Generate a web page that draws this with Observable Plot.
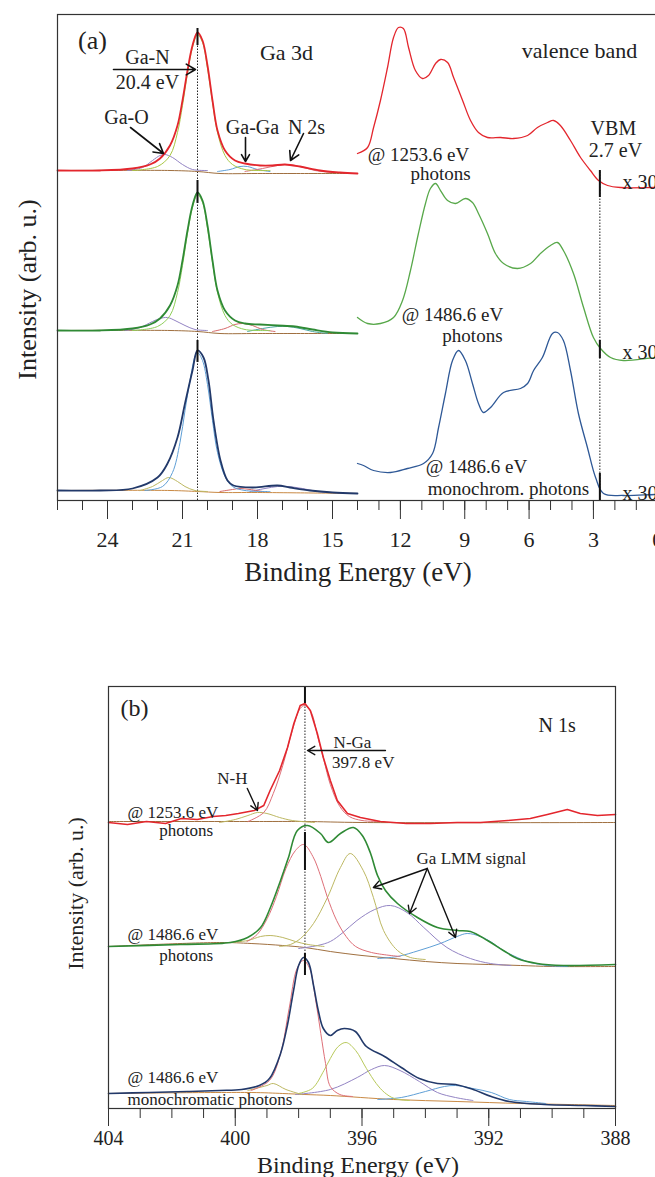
<!DOCTYPE html>
<html><head><meta charset="utf-8">
<script src="https://cdn.jsdelivr.net/npm/d3@7"></script>
<script src="https://cdn.jsdelivr.net/npm/@observablehq/plot@0.6"></script>
<style>
html,body{margin:0;padding:0;background:#fff;overflow:hidden;}
#wrap{position:relative;width:655px;height:1177px;overflow:hidden;background:#fff;}
#a{position:absolute;left:0;top:0;width:680px;}
#b{position:absolute;left:0;top:600px;width:655px;}
</style></head>
<body><div id="wrap"><div id="a"></div><div id="b"></div></div>
<script>
// ================= DATA (binding energy in eV, intensity in arb. u.) =================
// ---- Panel (a) Ga 3d, excitation 1253.6 eV (red) ----
const ga3d_1253_env = [[26,330],[24.3,330],[23,332],[22.3,336],[21.9,342],[21.5,355],[21.2,375],[21,400],[20.8,430],[20.6,455],[20.4,468],[20.2,460],[20,435],[19.8,400],[19.6,370],[19.3,350],[18.9,340],[18.5,337],[17.9,335],[17.4,335],[16.9,336],[16.3,334],[15.5,330],[14.7,328],[14,327]];
const ga3d_1253_GaN = [[23,330],[22,334],[21.5,345],[21.2,368],[21,395],[20.8,427],[20.6,453],[20.4,466],[20.2,458],[20,432],[19.8,398],[19.6,368],[19.3,345],[19,336],[18.5,331],[17.5,330]];
const ga3d_1253_GaO = [[23.2,330],[22.6,333],[22.2,340],[21.9,345],[21.7,346],[21.4,343],[21,336],[20.6,331],[20,330]];
const ga3d_1253_GaGa = [[19.6,329],[19.1,331],[18.7,334],[18.4,334],[18,331],[17.5,329]];
const ga3d_1253_N2s = [[18.5,329],[17.8,332],[17.2,335],[16.8,336],[16.3,334],[15.7,330],[15,328]];
const ga3d_1253_bg = [[26,330],[21.5,330],[20.4,329],[19.5,327],[18,327],[14,327]];
// ---- Panel (a) Ga 3d, 1486.6 eV (green) ----
const ga3d_1486_env = [[26,170],[24.3,170],[23,172],[22.3,176],[21.9,182],[21.5,195],[21.2,215],[21,240],[20.8,270],[20.6,295],[20.4,308],[20.2,300],[20,275],[19.8,240],[19.6,210],[19.3,190],[18.9,180],[18.5,177],[17.9,176],[17.2,175],[16.5,174],[15.8,171],[15,168],[14,167]];
const ga3d_1486_GaN = [[23,170],[22,174],[21.5,185],[21.2,208],[21,235],[20.8,267],[20.6,293],[20.4,306],[20.2,298],[20,272],[19.8,238],[19.6,208],[19.3,185],[19,176],[18.5,171],[17.5,170]];
const ga3d_1486_GaO = [[23.3,170],[22.7,173],[22.2,179],[21.9,182],[21.6,183],[21.3,180],[20.9,175],[20.5,171],[20,170]];
const ga3d_1486_GaGa = [[19.8,169],[19.3,172],[18.9,176],[18.6,177],[18.2,175],[17.8,171],[17.3,169]];
const ga3d_1486_N2s = [[18.4,169],[17.8,172],[17.2,174],[16.8,174],[16.3,172],[15.8,169],[15.2,167]];
const ga3d_1486_bg = [[26,170],[21.5,170],[20.4,169],[19.5,167],[18,167],[14,167]];
// ---- Panel (a) Ga 3d, 1486.6 eV monochromatic (navy) ----
const ga3d_mono_env = [[26,10],[24.3,10],[23,12],[22,23],[21.6,37],[21.2,63],[20.9,97],[20.6,130],[20.4,150],[20.16,143],[19.96,120],[19.76,80],[19.48,40],[19.2,20],[18.96,15],[18.2,13],[17.2,15],[16.7,13],[15.9,10],[15,8],[14,7]];
const ga3d_mono_GaN = [[22.5,10],[21.8,14],[21.4,28],[21.1,58],[20.9,90],[20.7,120],[20.5,144],[20.4,148],[20.2,140],[20,116],[19.8,80],[19.6,48],[19.3,24],[19,14],[18.5,10],[17.5,9]];
const ga3d_mono_GaO = [[22.7,10],[22.2,14],[21.8,20],[21.55,23],[21.2,19],[20.9,14],[20.5,10],[20,9]];
const ga3d_mono_GaGa = [[19.5,9],[19,11],[18.7,12],[18.3,11],[17.8,9]];
const ga3d_mono_N2s = [[18.3,9],[17.7,12],[17.2,14],[16.8,14],[16.2,12],[15.6,9],[15,8]];
const ga3d_mono_bg = [[26,10],[21.5,10],[20.4,9],[19.5,8],[18,8],[14,7]];
// ---- Panel (a) valence band (x 30) ----
const vb_1253 = [[14,347],[13.53,353],[13.25,373],[12.93,400],[12.6,433],[12.32,463],[12.09,473],[11.86,472],[11.62,453],[11.3,430],[10.97,422],[10.69,425],[10.36,437],[10.13,441],[9.8,438],[9.52,423],[9.1,400],[8.73,380],[8.36,368],[7.94,363],[7.33,363],[6.73,362],[6.07,365],[5.61,373],[5.14,378],[4.86,380],[4.54,375],[4.07,360],[3.6,343],[3.14,330],[2.76,320],[2.34,315],[1.74,313],[0.1,313],[-0.5,313]];
const vb_1486 = [[14,183],[13.53,177],[12.93,177],[12.32,183],[11.9,200],[11.53,230],[11.16,267],[10.83,297],[10.6,312],[10.36,317],[10.13,310],[9.8,300],[9.43,297],[8.97,302],[8.64,298],[8.36,287],[7.94,267],[7.57,247],[7.19,237],[6.54,232],[5.93,237],[5.47,247],[5,255],[4.68,258],[4.4,250],[3.93,227],[3.46,193],[3,163],[2.67,152],[2.2,143],[1.6,140],[0.1,143],[-0.5,143]];
const vb_mono = [[14,37],[13.72,35],[13.25,30],[12.46,28],[11.67,32],[10.92,37],[10.5,47],[10.22,73],[9.9,107],[9.57,140],[9.29,150],[8.97,140],[8.64,117],[8.36,97],[8.13,88],[7.8,93],[7.19,108],[6.4,112],[6.07,117],[5.79,130],[5.38,143],[4.91,167],[4.68,168],[4.4,160],[4.07,130],[3.7,87],[3.28,53],[2.9,23],[2.53,7],[1.6,5],[0.1,6],[-0.5,6]];
const GaN_peak_eV = 20.4;
const VBM_eV = 2.7;
const ga3d_peak_marks = [[472,455],[320,297],[160,138]];
const vbm_marks = [[330,303],[160,142],[27,0]];
const ticksA_major = [24,21,18,15,12,9,6,3,0];
const ticksA_minor = [26,25,24,23,22,21,20,19,18,17,16,15,14,13,12,11,10,9,8,7,6,5,4,3,2,1,0];

// ---- Panel (b) N 1s ----
const n1s_1253_env = [[404,286],[403.4,284],[402.8,287],[402.2,285],[401.7,290],[401.2,289],[400.7,292],[400.3,293],[399.9,295],[399.4,298],[399.1,303],[398.9,318],[398.6,338],[398.35,361],[398.15,385],[397.95,403],[397.8,405],[397.63,398],[397.41,375],[397.22,351],[397,328],[396.78,308],[396.46,295],[396.05,291],[395.42,287],[394.6,285],[393.84,285],[393,286],[392.26,286],[391.4,288],[390.69,290],[390.15,294],[389.52,299],[389.11,295],[388.57,293],[388,294]];
const n1s_1253_NGa = [[399.6,287],[399.1,296],[398.8,315],[398.5,343],[398.2,378],[397.95,400],[397.8,403],[397.6,396],[397.4,372],[397.2,348],[397,324],[396.7,302],[396.4,292],[396,288],[395.4,287]];
const n1s_1253_NH = [[400.5,286],[400,289],[399.6,293],[399.3,296],[399,295],[398.6,291],[398.2,288],[397.5,286]];
const n1s_1253_bg = [[404,287],[399,287],[397.8,287],[396,286],[388,286]];
const n1s_1486_env = [[404,162],[401.73,164],[400.15,166],[399.61,171],[399.2,181],[398.89,201],[398.57,228],[398.32,251],[398.04,278],[397.72,283],[397.31,275],[397.06,266],[396.68,275],[396.27,281],[395.99,273],[395.74,256],[395.51,233],[395.26,218],[394.88,205],[394.25,191],[393.62,181],[392.99,178],[392.58,177],[392.04,168],[391.54,158],[391.1,150],[390.47,145],[389.65,143],[388,144]];
const n1s_1486_NGa = [[399.63,167],[399.31,174],[398.99,190],[398.7,212],[398.4,240],[398.1,258],[397.84,264],[397.55,252],[397.3,232],[397.1,212],[396.8,188],[396.5,172],[396.2,162],[395.7,156],[394.8,152]];
const n1s_1486_NH = [[400.2,166],[399.6,168],[399.2,172],[398.9,173],[398.5,171],[398.1,167],[397.7,164],[397.2,162]];
const n1s_1486_LMM1 = [[398.6,162],[398.26,164],[397.94,170],[397.53,185],[397.09,211],[396.68,241],[396.37,255],[395.96,238],[395.64,211],[395.32,178],[394.88,158],[394.47,151],[394,149]];
const n1s_1486_LMM2 = [[398,160],[397.4,163],[397,167],[396.6,176],[396.16,188],[395.6,199],[395.1,203],[394.58,196],[394.05,181],[393.32,161],[392.58,150],[391.95,145],[391.3,143]];
const n1s_1486_LMM3 = [[395.5,150],[394.88,152],[394.2,158],[393.53,165],[393,172],[392.68,175],[392.26,172],[391.9,166],[391.54,158],[391.1,151],[390.69,146],[390.15,143],[389.5,142]];
const n1s_1486_bg = [[404,162],[400.5,166],[399.5,165],[398.5,163],[397.8,161],[397,157],[396,153],[395,150],[394,147],[393,145],[392,144],[391,143],[390,142],[388,142]];
const n1s_mono_env = [[404,15],[402.7,16],[401.51,17],[400.5,18],[399.8,19],[399.24,23],[398.92,30],[398.57,55],[398.35,84],[398.16,118],[398,143],[397.85,151],[397.69,146],[397.53,123],[397.38,98],[397.22,80],[397,73],[396.78,78],[396.56,80],[396.21,77],[395.86,62],[395.29,52],[394.76,41],[394.19,30],[393.62,25],[393.05,24],[392.49,19],[391.92,12],[391.35,7],[390.25,4],[389,3],[388,2]];
const n1s_mono_NGa = [[399.5,18],[398.92,28],[398.57,55],[398.3,100],[398.05,140],[397.85,148],[397.65,140],[397.47,110],[397.3,75],[397.15,45],[397,22],[396.7,14],[396.3,12]];
const n1s_mono_NH = [[399.6,18],[399,23],[398.8,25],[398.4,19],[397.9,14]];
const n1s_mono_LMM1 = [[398,15],[397.57,20],[397.2,38],[397,50],[396.75,62],[396.5,66],[396.2,58],[395.86,40],[395.55,25],[395.29,16],[394.98,10],[394.5,8]];
const n1s_mono_LMM2 = [[398.1,14],[397,19],[396.15,31],[395.7,39],[395.29,43],[394.8,38],[394.19,27],[393.62,16],[393.05,11],[392.5,8]];
const n1s_mono_LMM3 = [[395.5,9],[394.76,11],[394,17],[393.4,22],[393.05,23],[392.5,20],[391.92,16],[391.35,9],[390.81,7],[390.2,5]];
const n1s_mono_bg = [[404,15],[399.5,16],[398.5,15],[397.8,14],[397,13],[395,9],[393,7],[391,5],[389.5,4],[388,3]];
const NGa_peak_eV = 397.8;
const n1s_peak_marks = [[422,405],[276,238],[155,133]];
const ticksB_major = [404,400,396,392,388];
const ticksB_minor = [404,403,402,401,400,399,398,397,396,395,394,393,392,391,390,389,388];

// annotations
const labelsA = [
  {e:22.4,i:443,t:"Ga-N"},{e:22.4,i:418,t:"20.4 eV"},{e:23.24,i:383,t:"Ga-O"},
  {e:18.2,i:373,t:"Ga-Ga"},{e:16.04,i:373,t:"N 2s"},
  {e:2.07,i:372,t:"VBM"},{e:1.97,i:350,t:"2.7 eV"}
];
const photonLabelsA = [
  {e:11.16,i:346,t:"@ 1253.6 eV"},{e:10.13,i:327,t:"photons"},
  {e:9.57,i:186,t:"@ 1486.6 eV"},{e:8.64,i:165,t:"photons"},
  {e:8.45,i:34,t:"@ 1486.6 eV"},{e:6.96,i:12,t:"monochrom. photons"}
];
const titlesA = [{e:24.6,i:460,t:"(a)",s:26},{e:16.84,i:448,t:"Ga 3d",s:22},{e:3.65,i:450,t:"valence band",s:22}];
const scaleLabels = [{e:1.65,i:318,t:"x 30"},{e:1.65,i:148,t:"x 30"},{e:1.65,i:7,t:"x 30"}];
const arrowsA = [
  {x1:23.76,y1:431,x2:20.48,y2:431},
  {x1:23.08,y1:373,x2:21.76,y2:347},
  {x1:18.48,y1:363,x2:18.48,y2:339},
  {x1:16.16,y1:367,x2:16.68,y2:340}
];
const labelsB = [
  {e:396.3,i:366,t:"N-Ga"},{e:395.96,i:346,t:"397.8 eV"},{e:400.09,i:330,t:"N-H"},
  {e:392.55,i:250,t:"Ga LMM signal"}
];
const labelsBleft = [
  {e:403.4,i:296,t:"@ 1253.6 eV"},{e:402.4,i:278,t:"photons"},
  {e:403.4,i:174,t:"@ 1486.6 eV"},{e:402.4,i:153,t:"photons"},
  {e:403.4,i:31,t:"@ 1486.6 eV"},{e:403.4,i:9,t:"monochromatic photons"}
];
const titlesB = [{e:403.18,i:400,t:"(b)",s:24},{e:389.84,i:383,t:"N 1s",s:20}];
const arrowsB = [
  {x1:395.26,y1:358,x2:397.72,y2:358},
  {x1:399.62,y1:320,x2:399.3,y2:298},
  {x1:393.94,y1:240,x2:395.64,y2:221},
  {x1:393.94,y1:240,x2:394.5,y2:195},
  {x1:393.94,y1:240,x2:393.05,y2:171}
];

// ================= STYLE =================
const FONT = "'Liberation Serif','Times New Roman',Times,serif";
const C = {red:"#e3262d", green:"#2f8a35", vbGreen:"#58a84a", navy:"#22396a", vbBlue:"#2e5896",
  yg:"#a9c744", purple:"#9384c4", blue:"#5f9fd6", pink:"#de6f78", brown:"#a07040", teal:"#4aa8a0",
  olive:"#bdb862", ygreen:"#b8c95a", orange:"#c98a45", rose:"#d66a6a", lime:"#8fcf5a"};
const line = (d, stroke, w = 1, curve = "catmull-rom") =>
  Plot.line(d, {x: p => p[0], y: p => p[1], stroke, strokeWidth: w, curve});

// ================= PANEL (a) =================
const plotA = Plot.plot({
  width: 680, height: 600,
  marginLeft: 57, marginRight: 12, marginTop: 14, marginBottom: 100,
  style: {fontFamily: FONT, background: "white", maxWidth: "none", color: "#222"},
  x: {type: "linear", domain: [26, 14, -0.5], range: [57, 357, 668]},
  y: {domain: [0, 486]},
  marks: [
    Plot.ruleX([GaN_peak_eV], {y1: 0, y2: 470, stroke: "#222", strokeWidth: 1, strokeDasharray: "1.5,1.5"}),
    Plot.ruleX([VBM_eV], {y1: 0, y2: 330, stroke: "#222", strokeWidth: 1, strokeDasharray: "1.5,1.5"}),
    line(ga3d_1253_bg, C.brown), line(ga3d_1253_GaGa, C.blue), line(ga3d_1253_N2s, C.pink),
    line(ga3d_1253_GaO, C.purple), line(ga3d_1253_GaN, C.yg), line(ga3d_1253_env, C.red, 1.8),
    line(ga3d_1486_bg, C.brown), line(ga3d_1486_N2s, C.teal), line(ga3d_1486_GaGa, C.rose),
    line(ga3d_1486_GaO, C.purple), line(ga3d_1486_GaN, C.lime), line(ga3d_1486_env, C.green, 1.8),
    line(ga3d_mono_bg, C.orange), line(ga3d_mono_N2s, C.purple), line(ga3d_mono_GaGa, C.rose),
    line(ga3d_mono_GaO, C.olive), line(ga3d_mono_GaN, C.blue), line(ga3d_mono_env, C.navy, 1.8),
    line(vb_1253, C.red, 1.3), line(vb_1486, C.vbGreen, 1.3), line(vb_mono, C.vbBlue, 1.3),
    Plot.ruleX(ga3d_peak_marks, {x: () => GaN_peak_eV, y1: d => d[0], y2: d => d[1], stroke: "#111", strokeWidth: 2}),
    Plot.ruleX(vbm_marks, {x: () => VBM_eV, y1: d => d[0], y2: d => d[1], stroke: "#111", strokeWidth: 2}),
    Plot.arrow(arrowsA, {x1: "x1", y1: "y1", x2: "x2", y2: "y2", stroke: "#111", strokeWidth: 1.6, headLength: 10}),
    Plot.text(labelsA, {x: "e", y: "i", text: "t", fontSize: 20, fill: "#222"}),
    Plot.text(photonLabelsA, {x: "e", y: "i", text: "t", fontSize: 19, fill: "#222"}),
    Plot.text(titlesA, {x: "e", y: "i", text: "t", fontSize: "s", fill: "#222"}),
    Plot.text(scaleLabels, {x: "e", y: "i", text: "t", fontSize: 20, textAnchor: "start", fill: "#222"}),
    Plot.frame({stroke: "#333", strokeWidth: 1.2}),
    Plot.axisX({ticks: ticksA_minor, tickSize: 10, tickFormat: () => "", label: null, stroke: "#333"}),
    Plot.axisX({ticks: ticksA_major, tickSize: 19, tickPadding: 12, fontSize: 22, label: null, stroke: "#333", fill: "#222"}),
    Plot.axisY({ticks: [], label: null}),
    Plot.text(["Binding Energy (eV)"], {frameAnchor: "bottom", textAnchor: "middle", lineAnchor: "middle", dx: -5, dy: 72, fontSize: 27, fill: "#222"}),
    Plot.text(["Intensity (arb. u.)"], {frameAnchor: "left", textAnchor: "middle", lineAnchor: "middle", rotate: -90, dx: -30, dy: 32, fontSize: 26, fill: "#222"})
  ]
});
document.getElementById("a").append(plotA);

// ================= PANEL (b) =================
const plotB = Plot.plot({
  width: 655, height: 577,
  marginLeft: 108, marginRight: 40, marginTop: 86, marginBottom: 69,
  style: {fontFamily: FONT, background: "white", maxWidth: "none", color: "#222"},
  x: {domain: [404, 388]},
  y: {domain: [0, 422]},
  marks: [
    Plot.ruleX([NGa_peak_eV], {y1: 133, y2: 405, stroke: "#222", strokeWidth: 1, strokeDasharray: "1.5,1.5"}),
    line(n1s_1253_bg, C.brown), line(n1s_1253_NH, C.olive), line(n1s_1253_NGa, C.pink), line(n1s_1253_env, C.red, 1.6, "linear"),
    line(n1s_1486_bg, C.brown), line(n1s_1486_LMM3, C.blue), line(n1s_1486_LMM2, C.purple), line(n1s_1486_LMM1, C.olive),
    line(n1s_1486_NH, C.olive), line(n1s_1486_NGa, C.pink), line(n1s_1486_env, C.green, 1.6),
    line(n1s_mono_bg, C.orange), line(n1s_mono_LMM3, C.blue), line(n1s_mono_LMM2, C.purple), line(n1s_mono_LMM1, C.ygreen),
    line(n1s_mono_NH, C.olive), line(n1s_mono_NGa, C.pink), line(n1s_mono_env, C.navy, 1.6),
    Plot.ruleX(n1s_peak_marks, {x: () => NGa_peak_eV, y1: d => d[0], y2: d => d[1], stroke: "#111", strokeWidth: 2}),
    Plot.arrow(arrowsB, {x1: "x1", y1: "y1", x2: "x2", y2: "y2", stroke: "#111", strokeWidth: 1.4, headLength: 9}),
    Plot.text(labelsB, {x: "e", y: "i", text: "t", fontSize: 17, fill: "#222"}),
    Plot.text(labelsBleft, {x: "e", y: "i", text: "t", fontSize: 17, textAnchor: "start", fill: "#222"}),
    Plot.text(titlesB, {x: "e", y: "i", text: "t", fontSize: "s", fill: "#222"}),
    Plot.frame({stroke: "#333", strokeWidth: 1.2}),
    Plot.axisX({ticks: ticksB_minor, tickSize: 10, tickFormat: () => "", label: null, stroke: "#333"}),
    Plot.axisX({ticks: ticksB_major, tickSize: 18, tickPadding: 4, fontSize: 20, label: null, stroke: "#333", fill: "#222"}),
    Plot.axisY({ticks: [], label: null}),
    Plot.text(["Binding Energy (eV)"], {frameAnchor: "bottom", textAnchor: "middle", lineAnchor: "middle", dx: -4, dy: 57, fontSize: 24, fill: "#222"}),
    Plot.text(["Intensity (arb. u.)"], {frameAnchor: "left", textAnchor: "middle", lineAnchor: "middle", rotate: -90, dx: -33, dy: -4, fontSize: 22, fill: "#222"})
  ]
});
document.getElementById("b").append(plotB);
</script></body></html>
